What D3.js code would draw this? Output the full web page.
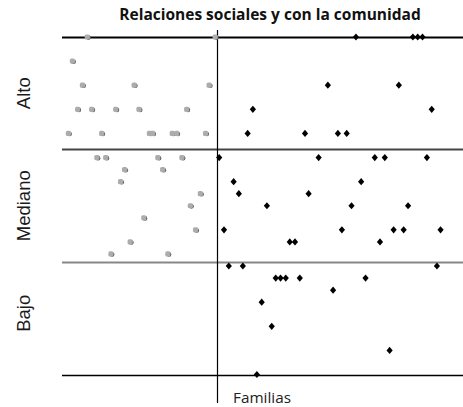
<!DOCTYPE html>
<html><head><meta charset="utf-8">
<script src="https://cdn.jsdelivr.net/npm/d3@7"></script>
<style>html,body{margin:0;padding:0;background:#fff;}svg{display:block;}</style>
</head><body>
<script>
// Data: position of each family along the horizontal axis (0-100) and its score (0-28)
const title = "Relaciones sociales y con la comunidad";
const xLabel = "Familias";
const bandLabels = ["Alto", "Mediano", "Bajo"];
const scoreMax = 28;
const splitPosition = 38.7;

const grayFamilies = [6.3, 38.2, 2.6, 5.1, 18.0, 36.7, 3.9, 7.4, 13.4, 19.2, 31.1, 1.6, 9.9, 21.8, 22.6, 27.5, 28.6, 35.8,
  8.7, 10.9, 23.9, 29.9, 15.6, 25.1, 14.6, 34.5, 32.0, 20.4, 33.3, 17.0, 12.2, 26.4];
const grayScores = [28, 28, 26, 24, 24, 24, 22, 22, 22, 22, 22, 20, 20, 20, 20, 20, 20, 20,
  18, 18, 18, 18, 17, 17, 16, 15, 14, 13, 12, 11, 10, 10];

const blackFamilies = [73.3, 87.5, 88.7, 89.9, 66.3, 84.0, 47.6, 92.2, 46.3, 60.6, 68.8, 71.0,
  39.2, 64.0, 78.0, 80.5, 91.0, 42.8, 74.6, 44.1, 61.5, 51.1, 72.2, 86.3, 40.4, 69.8, 82.7, 85.2, 94.4,
  56.8, 58.1, 79.3, 41.6, 45.1, 93.5,
  53.3, 54.5, 55.8, 59.3, 75.7, 67.6, 49.8, 52.3, 81.7, 48.6];
const blackScores = [28, 28, 28, 28, 24, 24, 22, 22, 20, 20, 20, 20,
  18, 18, 18, 18, 18, 16, 16, 15, 15, 14, 14, 14, 12, 12, 12, 12, 12,
  11, 11, 11, 9, 9, 9,
  8, 8, 8, 8, 8, 7, 6, 4, 2, 0];

const W = 463, H = 407;
const svg = d3.select("body").append("svg").attr("width", W).attr("height", H);

const x = d3.scaleLinear().domain([0, 100]).range([62, 463]);
const y = d3.scaleLinear().domain([0, scoreMax]).range([374.5, 37]);

const thresholds = [scoreMax, scoreMax * 2 / 3, scoreMax / 3, 0];
const lineStyles = [
  {stroke: "#000", w: 2},
  {stroke: "#444", w: 2},
  {stroke: "#888", w: 2},
  {stroke: "#000", w: 1.6}
];
svg.selectAll("line.h").data(thresholds).join("line")
  .attr("class", "h")
  .attr("x1", x(0)).attr("x2", x(100))
  .attr("y1", d => Math.round(y(d)) + 0.5).attr("y2", d => Math.round(y(d)) + 0.5)
  .attr("stroke", (d, i) => lineStyles[i].stroke)
  .attr("stroke-width", (d, i) => lineStyles[i].w);

// vertical divider
svg.append("line")
  .attr("x1", Math.round(x(splitPosition)) + 0.5).attr("x2", Math.round(x(splitPosition)) + 0.5)
  .attr("y1", 30).attr("y2", 403)
  .attr("stroke", "#000").attr("stroke-width", 1.2);

// band labels
const labelShift = [0, 0, -5];
svg.selectAll("text.band").data(bandLabels).join("text")
  .attr("class", "band")
  .attr("transform", (d, i) => `translate(30,${(y(thresholds[i]) + y(thresholds[i + 1])) / 2 + labelShift[i]}) rotate(-90)`)
  .attr("text-anchor", "middle")
  .attr("font-family", "Liberation Sans, Arial, sans-serif")
  .attr("font-size", 18.5)
  .attr("fill", "#1a1a1a")
  .text(d => d);

// title
svg.append("text")
  .attr("x", 270).attr("y", 20)
  .attr("text-anchor", "middle")
  .attr("font-family", "Open Sans, sans-serif")
  .attr("font-weight", "bold")
  .attr("font-size", 15.5)
  .attr("fill", "#111")
  .text(title);

// x label
svg.append("text")
  .attr("x", 233).attr("y", 403)
  .attr("font-family", "Open Sans, sans-serif")
  .attr("font-size", 15.3)
  .attr("fill", "#222")
  .text(xLabel);

// gray markers
const grayData = grayFamilies.map((f, i) => ({f, s: grayScores[i]}));
const g1 = svg.append("g");
g1.selectAll("circle.shadow").data(grayData).join("circle")
  .attr("class", "shadow")
  .attr("cx", d => x(d.f) + 1.2).attr("cy", d => y(d.s) + 0.6)
  .attr("r", 2.3).attr("fill", "#555");
g1.selectAll("rect").data(grayData).join("rect")
  .attr("x", d => x(d.f) - 2.6).attr("y", d => y(d.s) - 2.6)
  .attr("width", 5.2).attr("height", 5.2).attr("rx", 1.6)
  .attr("fill", "#acacac");

// black diamonds
const diamond = {
  draw(ctx, size) {
    const hw = 3.1, hh = 3.6;
    ctx.moveTo(0, -hh); ctx.lineTo(hw, 0); ctx.lineTo(0, hh); ctx.lineTo(-hw, 0); ctx.closePath();
  }
};
const blackData = blackFamilies.map((f, i) => ({f, s: blackScores[i]}));
svg.append("g").selectAll("path").data(blackData).join("path")
  .attr("transform", d => `translate(${x(d.f)},${y(d.s)})`)
  .attr("d", d3.symbol().type(diamond).size(40)())
  .attr("fill", "#000");
</script>
</body></html>
